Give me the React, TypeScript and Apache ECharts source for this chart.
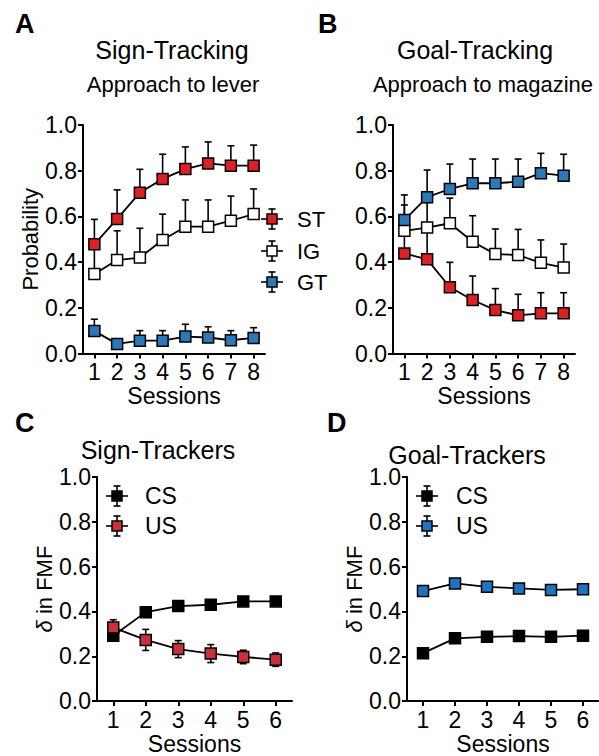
import React, { useEffect, useRef } from 'react';
import * as echarts from 'echarts';

// ---------- data ----------
const SESSIONS_8 = ['1', '2', '3', '4', '5', '6', '7', '8'];
const SESSIONS_6 = ['1', '2', '3', '4', '5', '6'];

// Panel A: approach to lever (probability), upward SEM
const A_ST = [0.478, 0.589, 0.704, 0.764, 0.807, 0.832, 0.822, 0.822];
const A_ST_ERR = [0.109, 0.127, 0.102, 0.108, 0.097, 0.094, 0.087, 0.09];
const A_IG = [0.348, 0.409, 0.42, 0.497, 0.555, 0.555, 0.581, 0.61];
const A_IG_ERR = [0.112, 0.128, 0.128, 0.113, 0.117, 0.117, 0.108, 0.11];
const A_GT = [0.098, 0.042, 0.056, 0.056, 0.074, 0.07, 0.058, 0.068];
const A_GT_ERR = [0.052, 0.02, 0.044, 0.044, 0.054, 0.047, 0.042, 0.045];

// Panel B: approach to magazine (probability), upward SEM
const B_ST = [0.438, 0.412, 0.29, 0.234, 0.19, 0.167, 0.176, 0.176];
const B_ST_ERR = [0.085, 0.125, 0.109, 0.105, 0.094, 0.092, 0.09, 0.09];
const B_IG = [0.537, 0.551, 0.57, 0.489, 0.435, 0.431, 0.397, 0.376];
const B_IG_ERR = [0.113, 0.11, 0.11, 0.114, 0.11, 0.112, 0.1, 0.103];
const B_GT = [0.584, 0.684, 0.72, 0.745, 0.745, 0.752, 0.789, 0.778];
const B_GT_ERR = [0.11, 0.119, 0.109, 0.106, 0.106, 0.099, 0.087, 0.094];

// Panel C: sign-trackers, delta in FMF
const C_CS = [0.292, 0.397, 0.424, 0.43, 0.445, 0.445];
const C_CS_ERR = [0.015, 0.012, 0.012, 0.012, 0.012, 0.012];
const C_US = [0.328, 0.273, 0.232, 0.212, 0.197, 0.185];
const C_US_ERR = [0.035, 0.047, 0.038, 0.04, 0.03, 0.03];

// Panel D: goal-trackers, delta in FMF
const D_CS = [0.214, 0.28, 0.287, 0.29, 0.287, 0.292];
const D_CS_ERR = [0.012, 0.012, 0.012, 0.012, 0.012, 0.012];
const D_US = [0.491, 0.525, 0.51, 0.503, 0.496, 0.499];
const D_US_ERR = [0.012, 0.012, 0.012, 0.012, 0.012, 0.012];

// ---------- styles ----------
const FONT = '"Liberation Sans", Arial, Helvetica, sans-serif';
const RED = '#dc2026';
const BLUE = '#2c79ba';
const RED_C = '#c9303a';
const BLUE_D = '#1e74c0';
const WHITE = '#ffffff';
const TICK_FS = 23;

function errSeries(idx: number, vals: number[], errs: number[], twoSided: boolean, z: number) {
  return {
    type: 'custom',
    xAxisIndex: idx,
    yAxisIndex: idx,
    z,
    silent: true,
    data: vals.map((v, i) => [i, v, errs[i]]),
    encode: { x: 0, y: 1 },
    renderItem: (_params: any, api: any) => {
      const i = api.value(0);
      const v = api.value(1);
      const e = api.value(2);
      const c = api.coord([i, v]);
      const t = api.coord([i, v + e]);
      const b = api.coord([i, v - e]);
      const hw = 3.5;
      const st = { stroke: '#000', lineWidth: 1.6 };
      const children: any[] = [
        { type: 'line', shape: { x1: c[0], y1: twoSided ? b[1] : c[1], x2: c[0], y2: t[1] }, style: st },
        { type: 'line', shape: { x1: c[0] - hw, y1: t[1], x2: c[0] + hw, y2: t[1] }, style: st },
      ];
      if (twoSided) {
        children.push({ type: 'line', shape: { x1: c[0] - hw, y1: b[1], x2: c[0] + hw, y2: b[1] }, style: st });
      }
      return { type: 'group', children };
    },
  };
}

function lineSeries(idx: number, vals: number[], color: string, z: number) {
  return {
    type: 'line',
    xAxisIndex: idx,
    yAxisIndex: idx,
    data: vals,
    z,
    silent: true,
    symbol: 'rect',
    symbolSize: 11,
    showSymbol: true,
    showAllSymbol: true,
    itemStyle: { color, borderColor: '#000', borderWidth: 1.5 },
    lineStyle: { color: '#000', width: 1.8 },
    emphasis: { disabled: true },
  };
}

function xAxis(gridIndex: number, data: string[]) {
  return {
    type: 'category',
    gridIndex,
    data,
    boundaryGap: true,
    axisLine: { show: true, onZero: false, lineStyle: { color: '#000', width: 2 } },
    axisTick: { show: true, alignWithLabel: true, length: 5, lineStyle: { color: '#000', width: 2 } },
    axisLabel: { color: '#000', fontSize: TICK_FS, margin: 7, fontFamily: FONT, interval: 0 },
    splitLine: { show: false },
    name: 'Sessions',
    nameLocation: 'middle',
    nameGap: 27,
    nameTextStyle: { color: '#000', fontSize: 23, fontFamily: FONT },
  };
}

function yAxis(gridIndex: number, name: string, nameGap: number) {
  return {
    type: 'value',
    gridIndex,
    min: 0,
    max: 1,
    interval: 0.2,
    axisLine: { show: true, lineStyle: { color: '#000', width: 2 } },
    axisTick: { show: true, length: 5, lineStyle: { color: '#000', width: 2 } },
    axisLabel: {
      color: '#000',
      fontSize: TICK_FS,
      margin: 6,
      fontFamily: FONT,
      formatter: (v: number) => v.toFixed(1),
    },
    splitLine: { show: false },
    name,
    nameLocation: 'middle',
    nameGap,
    nameTextStyle: {
      color: '#000',
      fontSize: 22,
      fontFamily: FONT,
      rich: { i: { fontStyle: 'italic', fontSize: 22, fontFamily: FONT, color: '#000' } },
    },
  };
}

function txt(text: string, x: number, y: number, fontSize: number, align = 'center', bold = false) {
  return {
    type: 'text',
    x,
    y,
    silent: true,
    style: {
      text,
      fontSize,
      fontFamily: FONT,
      fontWeight: bold ? 'bold' : 'normal',
      fill: '#000',
      align,
      verticalAlign: 'middle',
    },
  };
}

function glyph(cx: number, cy: number, color: string) {
  const st = { stroke: '#000', lineWidth: 1.6 };
  return {
    type: 'group',
    silent: true,
    children: [
      { type: 'line', shape: { x1: cx, y1: cy - 10, x2: cx, y2: cy + 10 }, style: st },
      { type: 'line', shape: { x1: cx - 3.5, y1: cy - 10, x2: cx + 3.5, y2: cy - 10 }, style: st },
      { type: 'line', shape: { x1: cx - 3.5, y1: cy + 10, x2: cx + 3.5, y2: cy + 10 }, style: st },
      { type: 'line', shape: { x1: cx - 11, y1: cy, x2: cx + 11, y2: cy }, style: st },
      {
        type: 'rect',
        shape: { x: cx - 5, y: cy - 5, width: 10, height: 10 },
        style: { fill: color, stroke: '#000', lineWidth: 1.5 },
      },
    ],
  };
}

export default function App() {
  const ref = useRef<HTMLDivElement>(null);

  useEffect(() => {
    if (!ref.current) return;
    const chart = echarts.init(ref.current, undefined, { renderer: 'svg' });
    const option: any = {
      animation: false,
      backgroundColor: '#ffffff',
      grid: [
        { left: 83, top: 125, width: 182, height: 228.5 },
        { left: 393, top: 125, width: 182, height: 228.5 },
        { left: 97, top: 477, width: 195, height: 229 },
        { left: 407, top: 477, width: 193, height: 229 },
      ],
      xAxis: [xAxis(0, SESSIONS_8), xAxis(1, SESSIONS_8), xAxis(2, SESSIONS_6), xAxis(3, SESSIONS_6)],
      yAxis: [
        yAxis(0, 'Probability', 42),
        yAxis(1, '', 40),
        yAxis(2, '{i|δ} in FMF', 40),
        yAxis(3, '{i|δ} in FMF', 40),
      ],
      series: [
        // Panel A
        errSeries(0, A_GT, A_GT_ERR, false, 2),
        errSeries(0, A_IG, A_IG_ERR, false, 2),
        errSeries(0, A_ST, A_ST_ERR, false, 2),
        lineSeries(0, A_GT, BLUE, 3),
        lineSeries(0, A_IG, WHITE, 4),
        lineSeries(0, A_ST, RED, 5),
        // Panel B
        errSeries(1, B_ST, B_ST_ERR, false, 2),
        errSeries(1, B_IG, B_IG_ERR, false, 2),
        errSeries(1, B_GT, B_GT_ERR, false, 2),
        lineSeries(1, B_ST, RED, 3),
        lineSeries(1, B_IG, WHITE, 4),
        lineSeries(1, B_GT, BLUE, 5),
        // Panel C
        errSeries(2, C_CS, C_CS_ERR, true, 2),
        errSeries(2, C_US, C_US_ERR, true, 2),
        lineSeries(2, C_CS, '#000000', 3),
        lineSeries(2, C_US, RED_C, 4),
        // Panel D
        errSeries(3, D_CS, D_CS_ERR, true, 2),
        errSeries(3, D_US, D_US_ERR, true, 2),
        lineSeries(3, D_CS, '#000000', 3),
        lineSeries(3, D_US, BLUE_D, 4),
      ],
      graphic: [
        txt('A', 15, 24, 27, 'left', true),
        txt('Sign-Tracking', 172, 50, 25),
        txt('Approach to lever', 173, 84, 22),
        txt('B', 318, 24, 27, 'left', true),
        txt('Goal-Tracking', 475, 50, 25),
        txt('Approach to magazine', 483, 84, 22),
        txt('C', 15, 423, 27, 'left', true),
        txt('Sign-Trackers', 158, 450, 25),
        txt('D', 327, 423, 27, 'left', true),
        txt('Goal-Trackers', 467, 455, 25),
        // legend A
        glyph(272, 219, RED),
        glyph(272, 251, WHITE),
        glyph(272, 282, BLUE),
        txt('ST', 297, 219, 22, 'left'),
        txt('IG', 297, 251, 22, 'left'),
        txt('GT', 297, 282, 22, 'left'),
        // legend C
        glyph(117, 496, '#000000'),
        glyph(117, 526, RED_C),
        txt('CS', 145, 496, 23, 'left'),
        txt('US', 145, 526, 23, 'left'),
        // legend D
        glyph(427, 496, '#000000'),
        glyph(427, 526, BLUE_D),
        txt('CS', 456, 496, 23, 'left'),
        txt('US', 456, 526, 23, 'left'),
      ],
    };
    chart.setOption(option);
    return () => {
      chart.dispose();
    };
  }, []);

  return (
    <div
      ref={ref}
      style={{ position: 'fixed', left: 0, top: 0, width: 599, height: 756, background: '#fff' }}
    />
  );
}
